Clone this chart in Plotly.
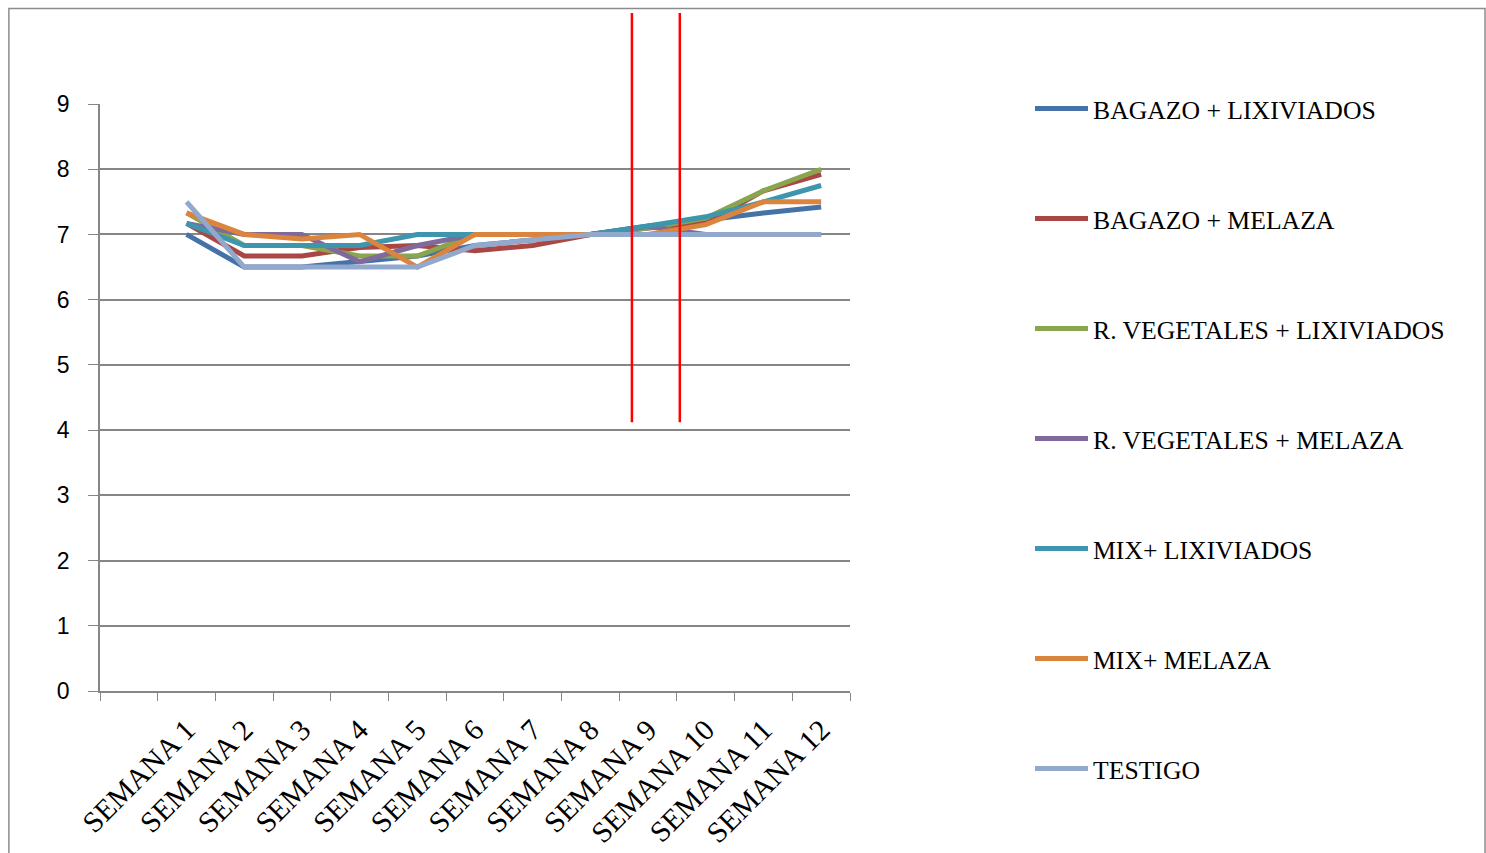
import plotly.graph_objects as go

weeks = ["SEMANA %d" % i for i in range(1, 13)]
blank_cat = " "

series_names = [
    "BAGAZO + LIXIVIADOS",
    "BAGAZO + MELAZA",
    "R. VEGETALES + LIXIVIADOS",
    "R. VEGETALES + MELAZA",
    "MIX+ LIXIVIADOS",
    "MIX+ MELAZA",
    "TESTIGO",
]
bagazo_lix = [7.0, 6.5, 6.5, 6.58, 6.67, 6.83, 6.92, 7.0, 7.13, 7.22, 7.33, 7.42]
bagazo_mel = [7.17, 6.67, 6.67, 6.8, 6.83, 6.75, 6.83, 7.0, 7.1, 7.17, 7.67, 7.92]
rveg_lix = [7.33, 6.83, 6.83, 6.67, 6.67, 7.0, 7.0, 7.0, 7.1, 7.25, 7.67, 8.0]
rveg_mel = [7.17, 7.0, 7.0, 6.58, 6.83, 7.0, 7.0, 7.0, 7.12, 7.0, 7.0, 7.0]
mix_lix = [7.17, 6.83, 6.83, 6.83, 7.0, 7.0, 7.0, 7.0, 7.13, 7.27, 7.5, 7.75]
mix_mel = [7.33, 7.0, 6.93, 7.0, 6.5, 7.0, 7.0, 7.0, 7.0, 7.15, 7.5, 7.5]
testigo = [7.5, 6.5, 6.5, 6.5, 6.5, 6.83, 6.92, 7.0, 7.0, 7.0, 7.0, 7.0]
all_values = [bagazo_lix, bagazo_mel, rveg_lix, rveg_mel, mix_lix, mix_mel, testigo]

colors = ["#4572A7", "#AA4643", "#89A54E", "#80699B", "#3D96AE", "#DB843D", "#92A8CD"]

y_ticks = list(range(0, 10))
# red reference lines, in category-axis units (0 = blank first category)
ref_line_pos = [8.72, 9.55]

fig = go.Figure()
for i, (name, vals) in enumerate(zip(series_names, all_values)):
    fig.add_trace(go.Scatter(
        x=weeks, y=vals, mode="lines", name=name,
        line=dict(color=colors[i], width=5),
        legendgroup="g%d" % i,
    ))

n_cat = len(weeks) + 1
for p in ref_line_pos:
    xp = (p + 0.5) / n_cat
    fig.add_shape(type="line", xref="paper", yref="paper",
                  x0=xp, x1=xp, y0=0.458, y1=1.155,
                  line=dict(color="#FF0000", width=2.5))

# outer chart frame
fig.add_shape(type="rect", xref="paper", yref="paper",
              x0=-0.1215, x1=1.8467, y0=-0.6, y1=1.1627,
              line=dict(color="#8C8C8C", width=1.5), layer="below")

fig.update_layout(
    width=1486, height=853,
    margin=dict(l=100, r=636, t=104, b=162, autoexpand=False),
    paper_bgcolor="white", plot_bgcolor="white",
    showlegend=True,
    legend=dict(
        x=1.24, xanchor="left",
        yref="container", y=0.9, yanchor="top",
        maxheight=853,
        font=dict(family="Liberation Serif", size=25.7, color="black"),
        traceorder="grouped", tracegroupgap=73.6,
        itemwidth=53, bgcolor="rgba(0,0,0,0)",
    ),
    xaxis=dict(
        type="category",
        categoryorder="array", categoryarray=[blank_cat] + weeks,
        range=[-0.5, len(weeks) + 0.5],
        tickmode="array", tickvals=[blank_cat] + weeks, ticktext=[""] + weeks,
        tickson="boundaries", ticks="outside", ticklen=8, tickcolor="#868686",
        showline=True, linecolor="#868686", linewidth=1.5,
        showgrid=False, tickangle=-45,
        tickfont=dict(family="Liberation Serif", size=29.5, color="black"),
        ticklabelstandoff=8,
        automargin=False, fixedrange=True,
    ),
    yaxis=dict(
        range=[0, 9], tickvals=y_ticks,
        ticks="outside", ticklen=10, tickcolor="#868686",
        showline=True, linecolor="#868686", linewidth=1.5,
        showgrid=True, gridcolor="#868686", gridwidth=1.5,
        zeroline=False,
        tickfont=dict(family="Liberation Sans", size=23, color="black"),
        ticklabelstandoff=14,
        automargin=False, fixedrange=True,
    ),
)

fig.write_html("out.html")
